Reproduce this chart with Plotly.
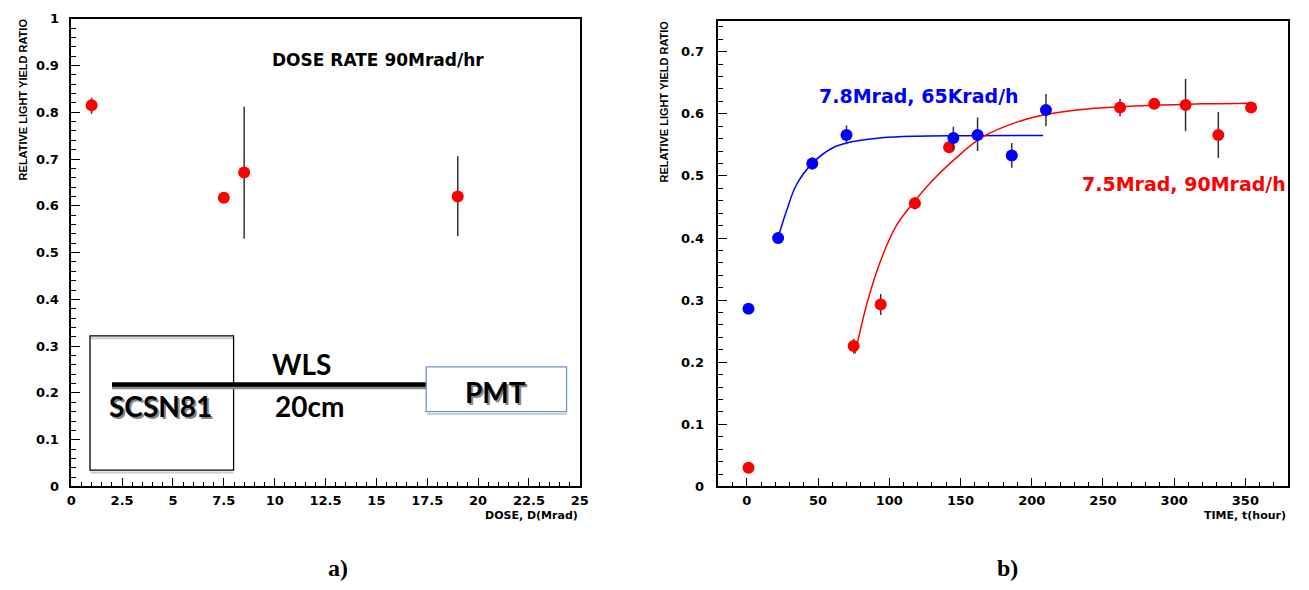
import plotly.graph_objects as go

W, H = 1309, 590

# ---------------- data: panel a ----------------
dose_x = [1.0, 7.5, 8.5, 19.0]
dose_y = [0.815, 0.617, 0.671, 0.620]
dose_err_up = [0.016, 0.0, 0.141, 0.086]
dose_err_dn = [0.018, 0.0, 0.141, 0.085]

# ---------------- data: panel b ----------------
blue_t = [1.2, 22, 46, 70, 145, 162, 186, 210]
blue_y = [0.286, 0.400, 0.520, 0.566, 0.561, 0.566, 0.533, 0.606]
blue_err_up = [0.0, 0.0, 0.010, 0.015, 0.018, 0.028, 0.020, 0.026]
blue_err_dn = [0.0, 0.0, 0.010, 0.015, 0.018, 0.026, 0.020, 0.026]

red_t = [1.2, 75, 94, 118, 142, 262, 286, 308, 331, 354]
red_y = [0.030, 0.226, 0.293, 0.456, 0.546, 0.610, 0.616, 0.614, 0.566, 0.610]
red_err_up = [0.0, 0.012, 0.017, 0.010, 0.008, 0.014, 0.0, 0.042, 0.037, 0.0]
red_err_dn = [0.0, 0.012, 0.017, 0.010, 0.008, 0.014, 0.0, 0.042, 0.037, 0.0]

# fitted curves
blue_fit_t = [22, 27.8, 34.7, 46.3, 60.2, 74, 94.9, 118, 150, 208]
blue_fit_y = [0.401, 0.443, 0.485, 0.521, 0.545, 0.555, 0.5615, 0.564, 0.5648, 0.5650]
red_fit_t = [76, 85, 95, 105, 118, 130, 145, 165, 190, 210, 235, 260, 290, 320, 355]
red_fit_y = [0.214, 0.300, 0.370, 0.420, 0.460, 0.492, 0.525, 0.562, 0.587, 0.599, 0.607, 0.611, 0.614, 0.616, 0.617]

# tick labels
xa_vals = [0, 2.5, 5, 7.5, 10, 12.5, 15, 17.5, 20, 22.5, 25]
xa_text = ["0", "2.5", "5", "7.5", "10", "12.5", "15", "17.5", "20", "22.5", "25"]
ya_vals = [0, 0.1, 0.2, 0.3, 0.4, 0.5, 0.6, 0.7, 0.8, 0.9, 1.0]
ya_text = ["0", "0.1", "0.2", "0.3", "0.4", "0.5", "0.6", "0.7", "0.8", "0.9", "1"]
xb_vals = [0, 50, 100, 150, 200, 250, 300, 350]
xb_text = ["0", "50", "100", "150", "200", "250", "300", "350"]
yb_vals = [0, 0.1, 0.2, 0.3, 0.4, 0.5, 0.6, 0.7]
yb_text = ["0", "0.1", "0.2", "0.3", "0.4", "0.5", "0.6", "0.7"]

RED = "#ff0000"
BLUE = "#0000ff"
ERRC = "#333333"

def bold(lst):
    return ["<b>" + s + "</b>" for s in lst]

fig = go.Figure()

def err(up, dn):
    return dict(type="data", symmetric=False, array=up, arrayminus=dn,
                color=ERRC, thickness=1.5, width=0)

fig.add_trace(go.Scatter(x=dose_x, y=dose_y, mode="markers",
                         marker=dict(color=RED, size=12),
                         error_y=err(dose_err_up, dose_err_dn),
                         xaxis="x", yaxis="y", showlegend=False))

fig.add_trace(go.Scatter(x=blue_fit_t, y=blue_fit_y, mode="lines",
                         line=dict(color=BLUE, width=1.5, shape="spline"),
                         xaxis="x2", yaxis="y2", showlegend=False))
fig.add_trace(go.Scatter(x=red_fit_t, y=red_fit_y, mode="lines",
                         line=dict(color=RED, width=1.5, shape="spline"),
                         xaxis="x2", yaxis="y2", showlegend=False))
fig.add_trace(go.Scatter(x=red_t, y=red_y, mode="markers",
                         marker=dict(color=RED, size=12),
                         error_y=err(red_err_up, red_err_dn),
                         xaxis="x2", yaxis="y2", showlegend=False))
fig.add_trace(go.Scatter(x=blue_t, y=blue_y, mode="markers",
                         marker=dict(color=BLUE, size=12),
                         error_y=err(blue_err_up, blue_err_dn),
                         xaxis="x2", yaxis="y2", showlegend=False))

tickfont = dict(family="DejaVu Sans", size=13, color="black")
common = dict(showgrid=False, zeroline=False, showline=True, linecolor="black",
              linewidth=1.5, mirror=True, ticks="inside", ticklen=9,
              tickcolor="black", tickwidth=1, tickfont=tickfont, tickmode="array")

fig.update_layout(
    width=W, height=H, autosize=False,
    margin=dict(l=0, r=0, t=0, b=0),
    paper_bgcolor="white", plot_bgcolor="white",
    xaxis=dict(domain=[67 / W, 581 / W], range=[0, 25],
               tickvals=xa_vals, ticktext=bold(xa_text),
               anchor="y", ticklabelstandoff=1,
               minor=dict(tickmode="linear", tick0=0, dtick=0.5, ticks="inside", ticklen=5, tickcolor="black"),
               **common),
    yaxis=dict(domain=[(H - 492) / H, (H - 12) / H], range=[0, 1],
               tickvals=ya_vals, ticktext=bold(ya_text),
               anchor="x", ticklabelstandoff=8,
               minor=dict(tickmode="linear", tick0=0, dtick=0.02, ticks="inside", ticklen=5, tickcolor="black"),
               **common),
    xaxis2=dict(domain=[721 / W, 1297 / W], range=[-20, 380],
                tickvals=xb_vals, ticktext=bold(xb_text),
                anchor="y2", ticklabelstandoff=1,
                minor=dict(tickmode="linear", tick0=0, dtick=10, ticks="inside", ticklen=5, tickcolor="black"),
                **common),
    yaxis2=dict(domain=[(H - 492) / H, (H - 14) / H], range=[0, 0.75],
                tickvals=yb_vals, ticktext=bold(yb_text),
                anchor="x2", ticklabelstandoff=10,
                minor=dict(tickmode="linear", tick0=0, dtick=0.02, ticks="inside", ticklen=5, tickcolor="black"),
                **common),
)

shapes = []
# scintillator box
shapes.append(dict(type="line", xref="x", yref="y", x0=0.95, x1=7.98, y0=0.317, y1=0.317,
                   line=dict(color="#cccccc", width=2), layer="above"))
shapes.append(dict(type="line", xref="x", yref="y", x0=0.95, x1=7.98, y0=0.030, y1=0.030,
                   line=dict(color="#cccccc", width=2), layer="above"))
shapes.append(dict(type="rect", xref="x", yref="y", x0=0.92, x1=7.98, y0=0.035, y1=0.322,
                   line=dict(color="black", width=1.3), layer="above"))
# WLS fibre with shadow
shapes.append(dict(type="line", xref="x", yref="y", x0=2.0, x1=17.45, y0=0.2115, y1=0.2115,
                   line=dict(color="#888888", width=3.5), layer="above"))
shapes.append(dict(type="line", xref="x", yref="y", x0=2.0, x1=17.45, y0=0.218, y1=0.218,
                   line=dict(color="black", width=4.5), layer="above"))
# PMT box
shapes.append(dict(type="line", xref="x", yref="y", x0=17.5, x1=24.35, y0=0.155, y1=0.155,
                   line=dict(color="#cccccc", width=2), layer="above"))
shapes.append(dict(type="rect", xref="x", yref="y", x0=17.45, x1=24.35, y0=0.160, y1=0.2556,
                   line=dict(color="#6a95c9", width=1.3), fillcolor="white", layer="above"))
fig.update_layout(shapes=shapes)

ann = []
def shadow_text(txt, x, y, size):
    ann.append(dict(text=txt, x=x, y=y, xref="x", yref="y", showarrow=False,
                    xshift=2, yshift=-2,
                    font=dict(family="Lato", size=size, color="#888888", weight="bold")))
    ann.append(dict(text=txt, x=x, y=y, xref="x", yref="y", showarrow=False,
                    font=dict(family="Lato", size=size, color="black", weight="bold")))

shadow_text("SCSN81", 4.38, 0.171, 28)
shadow_text("PMT", 20.87, 0.202, 28)
ann.append(dict(text="WLS", x=11.33, y=0.261, xref="x", yref="y", showarrow=False,
                font=dict(family="Lato", size=28, color="black", weight="bold")))
ann.append(dict(text="20cm", x=11.72, y=0.171, xref="x", yref="y", showarrow=False,
                font=dict(family="Lato", size=28, color="black", weight="bold")))

ann.append(dict(text="DOSE RATE 90Mrad/hr", x=15.1, y=0.9125, xref="x", yref="y",
                showarrow=False, font=dict(family="DejaVu Sans", size=17, weight=600, color="black")))
ann.append(dict(text="7.8Mrad, 65Krad/h", x=120.7, y=0.628, xref="x2", yref="y2",
                showarrow=False, font=dict(family="DejaVu Sans", size=19, weight=600, color=BLUE)))
ann.append(dict(text="7.5Mrad, 90Mrad/h", x=307, y=0.487, xref="x2", yref="y2",
                showarrow=False, font=dict(family="DejaVu Sans", size=19, weight=600, color=RED)))

titlefont = dict(family="Liberation Sans", size=11, color="black", weight="bold")
ann.append(dict(text="RELATIVE LIGHT YIELD RATIO", x=18 / W, y=(H - 95) / H,
                xref="paper", yref="paper", textangle=-90, showarrow=False,
                xanchor="center", yanchor="middle", font=titlefont))
ann.append(dict(text="RELATIVE LIGHT YIELD RATIO", x=666 / W, y=(H - 97) / H,
                xref="paper", yref="paper", textangle=-90, showarrow=False,
                xanchor="center", yanchor="middle", font=titlefont))
xtfont = dict(family="DejaVu Sans", size=11, color="black", weight=700)
ann.append(dict(text="DOSE, D(Mrad)", x=581 / W, y=(H - 522) / H, xref="paper", yref="paper",
                xanchor="right", yanchor="middle", showarrow=False, font=xtfont))
ann.append(dict(text="TIME, t(hour)", x=1297 / W, y=(H - 522) / H, xref="paper", yref="paper",
                xanchor="right", yanchor="middle", showarrow=False, font=xtfont))

labfont = dict(family="Liberation Serif", size=24, color="black", weight="bold")
ann.append(dict(text="a)", x=337 / W, y=(H - 576) / H, xref="paper", yref="paper",
                xanchor="center", yanchor="middle", showarrow=False, font=labfont))
ann.append(dict(text="b)", x=1013 / W, y=(H - 576) / H, xref="paper", yref="paper",
                xanchor="center", yanchor="middle", showarrow=False, font=labfont))

fig.update_layout(annotations=ann)

fig.write_html("out.html")
